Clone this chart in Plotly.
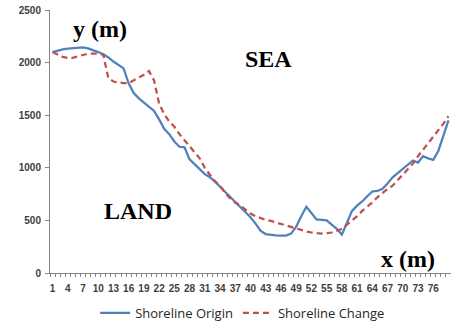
import plotly.graph_objects as go

# Profile stations along the coast (x, m) and shoreline positions (y, m)
stations = list(range(1, 80))

shoreline_origin = [
    2100, 2115, 2125, 2132, 2138, 2140, 2145, 2135, 2120, 2100,
    2080, 2050, 2010, 1975, 1945, 1800, 1710, 1660, 1620, 1580,
    1540, 1460, 1370, 1320, 1250, 1200, 1195, 1080, 1030, 980,
    940, 910, 870, 820, 770, 730, 680, 630, 580, 530,
    470, 400, 370, 362, 358, 355, 355, 375, 440, 540,
    630, 570, 510, 505, 500, 460, 420, 365, 480, 590,
    640, 680, 730, 775, 780, 800, 850, 910, 950, 990,
    1030, 1070, 1050, 1110, 1090, 1075, 1160, 1300, 1450,
]

shoreline_change = [
    2100, 2080, 2055, 2045, 2045, 2060, 2075, 2085, 2085, 2085,
    2075, 1850, 1820, 1810, 1805, 1805, 1830, 1860, 1885, 1920,
    1830, 1610, 1510, 1440, 1390, 1320, 1260, 1210, 1150, 1090,
    1000, 930, 870, 830, 760, 710, 670, 640, 600, 565,
    540, 520, 505, 495, 480, 470, 455, 440, 420, 405,
    395, 385, 380, 375, 378, 385, 400, 420, 460, 500,
    540, 590, 630, 670, 720, 760, 800, 830, 880, 930,
    980, 1040, 1110, 1170, 1230, 1290, 1350, 1420, 1490,
]

x_tick_labels = [str(v) for v in range(1, 80, 3)]
y_ticks = [0, 500, 1000, 1500, 2000, 2500]

AXIS_GREY = "#868686"
LABEL_FONT = dict(family="Liberation Sans", size=10, color="#404040", weight="bold")
SERIF_BOLD = dict(family="Liberation Serif", size=24, color="#000000")

fig = go.Figure()
fig.add_trace(go.Scatter(
    x=stations, y=shoreline_origin, mode="lines", name="Shoreline Origin",
    line=dict(color="#4f81bd", width=2.25),
))
fig.add_trace(go.Scatter(
    x=stations, y=shoreline_change, mode="lines", name="Shoreline Change",
    line=dict(color="#c0504d", width=2.25, dash="6px,4px"),
))

annotations = [
    ("<b>y (m)</b>", 10.3, 2320),
    ("<b>SEA</b>", 43.5, 2030),
    ("<b>LAND</b>", 17.9, 592),
    ("<b>x (m)</b>", 71.1, 136),
]
for text, ax, ay in annotations:
    fig.add_annotation(text=text, x=ax, y=ay, xref="x", yref="y",
                       showarrow=False, font=SERIF_BOLD)

fig.update_layout(
    width=451, height=326,
    margin=dict(l=50, r=0, t=10, b=53),
    paper_bgcolor="white", plot_bgcolor="white",
    showlegend=True,
    legend=dict(
        orientation="h", xref="container", yref="container",
        x=0.538, xanchor="center", y=0.04, yanchor="middle",
        font=dict(family="Open Sans", size=13, color="#262626"),
        itemwidth=30, tracegroupgap=0,
    ),
)
fig.update_xaxes(
    range=[0.5, 79.5], showgrid=False, zeroline=False,
    showline=True, linecolor=AXIS_GREY, linewidth=1,
    tickmode="array", tickvals=list(range(1, 80, 3)), ticktext=x_tick_labels,
    ticks="", tickfont=LABEL_FONT, ticklabelstandoff=6,
    minor=dict(tickmode="array", tickvals=[v + 0.5 for v in range(0, 80)],
               ticks="outside", ticklen=3, tickcolor=AXIS_GREY, tickwidth=1),
)
fig.update_yaxes(
    range=[0, 2500], showgrid=False, zeroline=False,
    showline=True, linecolor=AXIS_GREY, linewidth=1,
    tickvals=y_ticks, ticks="outside", ticklen=4, tickcolor=AXIS_GREY,
    tickfont=LABEL_FONT, ticklabelstandoff=2,
)

fig.write_html("out.html")
